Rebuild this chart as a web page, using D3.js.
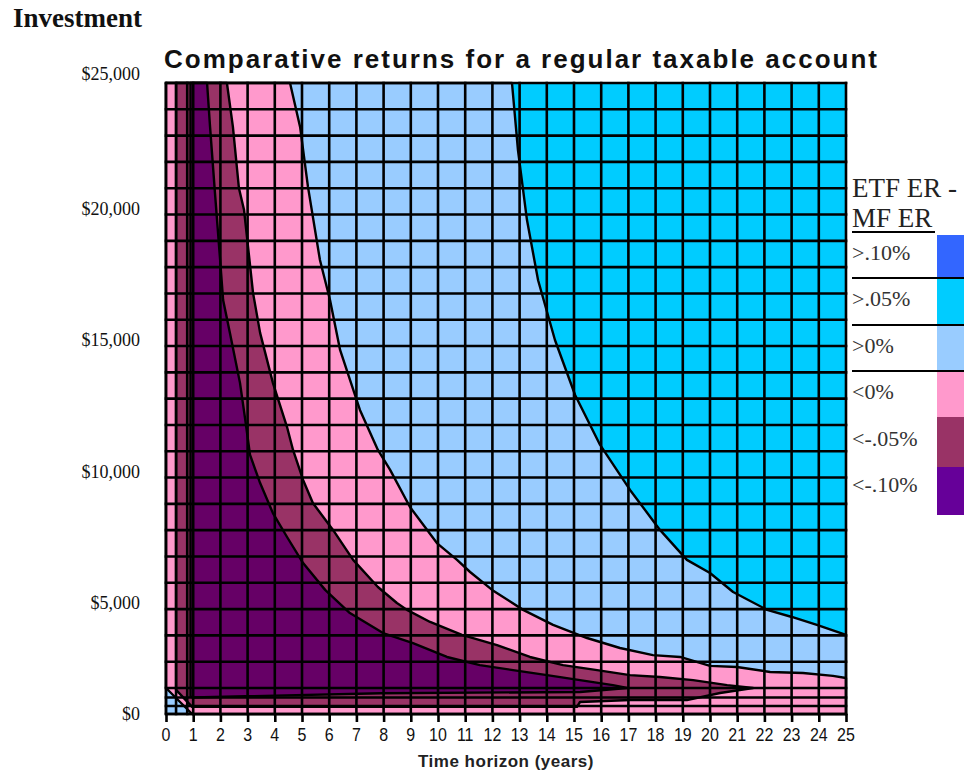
<!DOCTYPE html>
<html>
<head>
<meta charset="utf-8">
<script src="https://cdn.jsdelivr.net/npm/d3@7.9.0/dist/d3.min.js"></script>
<style>
  body { margin: 0; background: #fff; }
  svg { display: block; }
</style>
</head>
<body>
<svg id="chart"></svg>
<script>
// Grid columns (years) and rows (investment $)
const xTicks = d3.range(0, 26);
const xCols = [0, 0.37, 0.78].concat(d3.range(1, 26));
const yRows = [0, 500, 1000].concat(d3.range(2000, 25001, 1000));
const yBreaks = [0, 500, 1000, 2000, 25000];
const yLabels = [0, 5000, 10000, 15000, 20000, 25000];

// Contour boundaries: [years, investment $]
// >.05% line (light blue | cyan)
const lineA = [[12.72, 25000], [12.94, 22450], [13.27, 19800], [13.68, 17500], [14.30, 15230],
  [15.04, 13140], [15.96, 11240], [17.06, 9530], [18.16, 8010], [19.15, 6870], [20.0, 6370],
  [20.85, 5650], [22.10, 4970], [23.01, 4700], [23.93, 4400], [25, 4020]];

// 0% line (pink | light blue)
const lineB = [[4.56, 25000], [4.93, 23330], [5.22, 21050], [5.66, 18270], [6.03, 16750],
  [6.40, 14850], [7.13, 12570], [7.79, 11050], [8.24, 10290], [8.97, 8880], [9.96, 7510],
  [10.70, 6870], [11.18, 6410], [11.99, 5730], [13.13, 4970], [14.23, 4400], [15.48, 3900],
  [16.69, 3520], [17.90, 3250], [18.90, 3180], [20.0, 2840], [20.99, 2800], [22.21, 2610],
  [23.42, 2570], [24.52, 2460], [25, 2380]];
const cornerTri = [[0.96, 0], [0, 2000]];

// -.05% line (maroon | pink), upper side then underside
const lineC = [[2.24, 25000], [2.46, 23330], [2.68, 21010], [2.87, 20170], [3.20, 17020],
  [3.46, 15500], [3.93, 13600], [4.45, 11920], [4.67, 11050], [5.04, 9910], [5.40, 9030],
  [6.14, 8010], [6.88, 6870], [7.79, 5840], [8.49, 5230], [8.86, 4970], [9.71, 4510],
  [10.88, 4020], [12.17, 3630], [13.38, 3180], [14.60, 2870], [15.85, 2680], [17.06, 2490],
  [18.16, 2420], [19.38, 2300], [20.63, 2110], [21.58, 2000]];
const lineCLow = [[20.37, 1470], [19.15, 850], [17.06, 850], [15.22, 735], [15.11, 450],
  [0.96, 450], [0.37, 1800], [0.37, 25000]];

// -.10% line (purple | maroon), upper side then underside
const lineD = [[1.51, 25000], [1.62, 23330], [1.80, 20820], [1.99, 18270], [2.10, 16750],
  [2.35, 15500], [2.72, 13600], [2.90, 12300], [3.09, 10860], [3.46, 9790], [3.93, 8650],
  [4.45, 7740], [5.04, 6750], [5.85, 5730], [6.76, 4850], [7.98, 4090], [9.08, 3710],
  [10.33, 3180], [11.54, 2870], [12.76, 2680], [14.01, 2490], [15.22, 2300], [16.43, 2110],
  [16.95, 2000]];
const lineDLow = [[15.22, 1580], [7.9, 1450], [1.0, 1000], [0.9, 1100], [0.9, 25000]];

const legendLabels = ['>.10%', '>.05%', '>0%', '<0%', '<-.05%', '<-.10%'];
const legendColors = ['#3366FF', '#00CCFF', '#99CCFF', '#FF99CC', '#993366', '#660099'];

const colors = { cyan: '#00CCFF', light: '#99CCFF', pink: '#FF99CC', maroon: '#993366', purple: '#660066' };

const width = 964, height = 774;
const svg = d3.select('#chart').attr('width', width).attr('height', height);

const x = d3.scaleLinear().domain([0, 25]).range([166, 846]);
const y = d3.scaleLinear().domain(yBreaks).range([714, 706, 697.5, 688, 83]);

const line = d3.line().x((d) => x(d[0])).y((d) => y(d[1]));

// Nested regions, painted from the outside in
const regions = [
  { color: colors.light, pts: [[0, 25000], ...lineA, [25, 0], [0, 0]] },
  { color: colors.pink, pts: [[0, 25000], ...lineB, [25, 0], ...cornerTri] },
  { color: colors.maroon, pts: [[0.37, 25000], ...lineC, ...lineCLow] },
  { color: colors.purple, pts: [[0.9, 25000], ...lineD, ...lineDLow] },
];

const plot = svg.append('g');

plot.append('rect')
  .attr('x', x(0)).attr('y', y(25000))
  .attr('width', x(25) - x(0)).attr('height', y(0) - y(25000))
  .attr('fill', colors.cyan);

plot.selectAll('path.region')
  .data(regions)
  .join('path')
  .attr('class', 'region')
  .attr('d', (d) => line(d.pts) + 'Z')
  .attr('fill', (d) => d.color)
  .attr('stroke', '#000')
  .attr('stroke-width', 2.4)
  .attr('stroke-linejoin', 'round');

// Gridlines
const grid = svg.append('g').attr('stroke', '#000').attr('stroke-width', 2.6);
grid.selectAll('line.v')
  .data(xCols)
  .join('line')
  .attr('class', 'v')
  .attr('x1', (d) => x(d)).attr('x2', (d) => x(d))
  .attr('y1', y(25000) - 1.3).attr('y2', y(0) + 1.3);
grid.selectAll('line.h')
  .data(yRows)
  .join('line')
  .attr('class', 'h')
  .attr('x1', x(0) - 1.3).attr('x2', x(25) + 1.3)
  .attr('y1', (d) => y(d)).attr('y2', (d) => y(d));

// X axis ticks
const xAxis = svg.append('g')
  .attr('transform', `translate(0, ${y(0)})`)
  .call(d3.axisBottom(x).tickValues(xTicks).tickSize(8).tickFormat(''));
xAxis.select('.domain').remove();
xAxis.selectAll('.tick line').attr('stroke', '#000').attr('stroke-width', 2.6);

svg.append('g')
  .selectAll('text')
  .data(xTicks)
  .join('text')
  .attr('transform', (d) => `translate(${x(d)}, 741) scale(1, 1.2)`)
  .attr('text-anchor', 'middle')
  .attr('font-family', 'Liberation Sans, Arial, sans-serif')
  .attr('font-size', 16)
  .attr('fill', '#111')
  .text((d) => d);

svg.append('text')
  .attr('x', 506)
  .attr('y', 767)
  .attr('text-anchor', 'middle')
  .attr('font-family', 'Liberation Sans, Arial, sans-serif')
  .attr('font-weight', 'bold')
  .attr('font-size', 17)
  .attr('letter-spacing', 0.5)
  .attr('fill', '#222')
  .text('Time horizon (years)');

// Y labels (serif, set beside the grid)
svg.append('g')
  .selectAll('text')
  .data(yLabels)
  .join('text')
  .attr('x', 140)
  .attr('y', (d) => y(d) + (d === 0 ? 6 : d === 25000 ? -3 : 0))
  .attr('text-anchor', 'end')
  .attr('font-family', 'Liberation Serif, Times New Roman, serif')
  .attr('font-size', 18)
  .attr('fill', '#111')
  .text((d) => '$' + d3.format(',')(d));

svg.append('text')
  .attr('x', 13).attr('y', 27)
  .attr('font-family', 'Liberation Serif, Times New Roman, serif')
  .attr('font-weight', 'bold')
  .attr('font-size', 27)
  .attr('fill', '#111')
  .text('Investment');

svg.append('text')
  .attr('x', 164).attr('y', 68)
  .attr('font-family', 'Liberation Sans, Arial, sans-serif')
  .attr('font-weight', 'bold')
  .attr('font-size', 26)
  .attr('letter-spacing', 2)
  .attr('fill', '#111')
  .text('Comparative returns for a regular taxable account');

// Legend
const legend = svg.append('g').attr('font-family', 'Liberation Serif, Times New Roman, serif');
legend.append('text').attr('x', 852).attr('y', 197).attr('font-size', 27).attr('fill', '#222').text('ETF ER -');
legend.append('text').attr('x', 852).attr('y', 227).attr('font-size', 27).attr('fill', '#222').text('MF ER');

const swatchTop = [235, 278, 325, 371, 417, 467, 515];
legend.selectAll('rect')
  .data(legendColors)
  .join('rect')
  .attr('x', 937)
  .attr('y', (d, i) => swatchTop[i])
  .attr('width', 30)
  .attr('height', (d, i) => swatchTop[i + 1] - swatchTop[i])
  .attr('fill', (d) => d);

legend.selectAll('text.lab')
  .data(legendLabels)
  .join('text')
  .attr('class', 'lab')
  .attr('x', 852)
  .attr('y', (d, i) => 260 + i * 46.4)
  .attr('font-size', 22)
  .attr('fill', '#333')
  .text((d) => d);

const rules = [232, 278, 325, 371];
legend.selectAll('line')
  .data(rules)
  .join('line')
  .attr('x1', 852)
  .attr('x2', (d, i) => (i === 0 ? 935 : 964))
  .attr('y1', (d) => d).attr('y2', (d) => d)
  .attr('stroke', '#000')
  .attr('stroke-width', 2);
</script>
</body>
</html>
